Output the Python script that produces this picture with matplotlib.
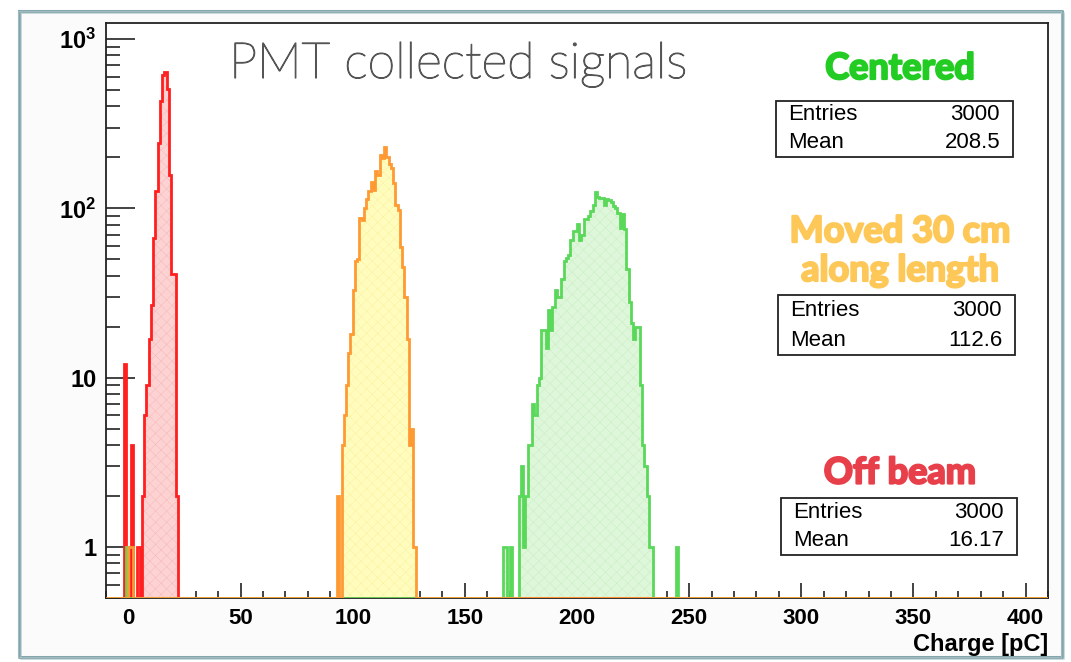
import numpy as np
import matplotlib
matplotlib.use('Agg')
import matplotlib.pyplot as plt
import matplotlib.patheffects as pe
from matplotlib.patches import Rectangle
from matplotlib.lines import Line2D
from matplotlib.ticker import MultipleLocator, LogLocator, FuncFormatter, NullFormatter

# charge histograms, 1 pC bins; counts start at the given bin
red_first = -2
red_counts = [12, 0, 0, 4, 0, 0, 1, 0, 2, 6, 9, 17, 27, 67, 126, 242, 430,
              611, 636, 505, 158, 41, 41, 2]

orange_first = 93
orange_counts = [2, 0, 4, 6, 9, 14, 18, 33, 49, 50, 88, 85, 100, 114, 127,
                 144, 129, 167, 158, 207, 198, 229, 202, 182, 173, 141, 105,
                 98, 59, 45, 30, 17, 4, 5, 1]
orange_extra_bins = [0, 1]
orange_extra_counts = [1, 1]

green_first = 174
green_counts = [2, 3, 1, 2, 4, 4, 7, 6, 9, 10, 19, 19, 15, 25, 19, 26, 33,
                30, 30, 38, 49, 51, 53, 65, 73, 73, 81, 65, 70, 86, 86, 90,
                96, 104, 125, 117, 115, 115, 105, 114, 112, 109, 103, 100,
                94, 77, 92, 75, 44, 28, 21, 17, 20, 20, 9, 4, 3, 2, 1, 1]
green_extra_bins = [-1, 167, 168, 170, 244]
green_extra_counts = [1, 1, 1, 1, 1]

labels = ['Centered', 'Moved 30 cm\nalong length', 'Off beam']
entries = ['3000', '3000', '3000']
means = ['208.5', '112.6', '16.17']

W, H = 1071, 662
edges = np.arange(-10, 411)
ymin, ymax = 0.5, 1243


def fx(px):
    return px / W


def fy(py):
    return 1 - py / H


def build(first, counts, extra_bins=(), extra_counts=()):
    h = np.zeros(len(edges) - 1)
    i0 = first - edges[0]
    h[i0:i0 + len(counts)] = counts
    for b, c in zip(extra_bins, extra_counts):
        h[b - edges[0]] += c
    return h


red_h = build(red_first, red_counts)
orange_h = build(orange_first, orange_counts, orange_extra_bins, orange_extra_counts)
green_h = build(green_first, green_counts, green_extra_bins, green_extra_counts)

plt.rcParams['mathtext.fontset'] = 'custom'
plt.rcParams['mathtext.bf'] = 'Liberation Sans:bold'
plt.rcParams['mathtext.rm'] = 'Liberation Sans'
plt.rcParams['hatch.linewidth'] = 0.3

fig = plt.figure(figsize=(W / 100, H / 100), dpi=100)
fig.patch.set_facecolor('white')

# sketchy slide frame
fig.add_artist(Rectangle((fx(19), fy(657)), fx(1062) - fx(19), fy(11) - fy(657),
                         transform=fig.transFigure, fc='#fbfbfb', ec='none', zorder=0))
frame_x = [19, 1062, 1062, 19, 19]
frame_y = [11, 11, 657, 657, 11]
fig.add_artist(Line2D([fx(v) for v in frame_x], [fy(v) for v in frame_y],
                      transform=fig.transFigure, color='#6d959c', lw=2.2, alpha=0.85))
fig.add_artist(Line2D([fx(v + 1.5) for v in frame_x], [fy(v + 1.5) for v in frame_y],
                      transform=fig.transFigure, color='#9dbabf', lw=1.2, alpha=0.6))
fig.add_artist(Line2D([fx(v - 1) for v in frame_x], [fy(v - 0.5) for v in frame_y],
                      transform=fig.transFigure, color='#b5cbce', lw=0.8, alpha=0.6))

ax = fig.add_axes([fx(106), fy(598), fx(1048) - fx(106), fy(23) - fy(598)])
ax.set_facecolor('white')
ax.set_yscale('log')
ax.set_xlim(-10, 410)
ax.set_ylim(ymin, ymax)

hists = [
    (red_h, '#ff1f1f', '#fcd2d2', '#f7b4b4'),
    (green_h, '#5ad85a', '#def6da', '#c4eebd'),
    (orange_h, '#ff9a33', '#fffcbd', '#f9f09a'),
]
for h, line_col, face_col, hatch_col in hists:
    shown = np.where(h > 0, h, ymin)
    ax.stairs(shown, edges, baseline=ymin, fill=True, facecolor=face_col,
              edgecolor=hatch_col, hatch='xxx', linewidth=0, zorder=2)
    ax.stairs(shown, edges, baseline=ymin, color=line_col, linewidth=2.0, zorder=3)

for s in ax.spines.values():
    s.set_linewidth(1.3)
    s.set_color('#222222')
    s.set_zorder(2.5)

ax.xaxis.set_major_locator(MultipleLocator(50))
ax.xaxis.set_minor_locator(MultipleLocator(10))
ax.yaxis.set_major_locator(LogLocator(base=10, numticks=10))
ax.yaxis.set_minor_locator(LogLocator(base=10, subs=np.arange(2, 10), numticks=20))
ax.yaxis.set_minor_formatter(NullFormatter())


def ylab(v, pos):
    if v < 5:
        return '1'
    if v < 50:
        return '10'
    return r'$\mathbf{10^{%d}}$' % round(np.log10(v))


ax.yaxis.set_major_formatter(FuncFormatter(ylab))
ax.tick_params(which='both', direction='in', top=False, right=False,
               color='#222222', width=1.2)
ax.tick_params(axis='x', which='major', length=11, pad=7)
ax.tick_params(axis='x', which='minor', length=5)
ax.tick_params(axis='y', which='major', length=21, pad=7)
ax.tick_params(axis='y', which='minor', length=10)
for lab in ax.get_xticklabels():
    lab.set_fontfamily('Liberation Sans')
    lab.set_fontweight('bold')
    lab.set_fontsize(16)
for lab in ax.get_yticklabels():
    lab.set_fontfamily('Liberation Sans')
    lab.set_fontweight('bold')
    lab.set_fontsize(17)

fig.text(fx(1048), fy(644), 'Charge [pC]', ha='right', va='center',
         family='Liberation Sans', weight='bold', fontsize=17)

title = fig.text(fx(458), fy(78), 'PMT collected signals', ha='center',
                 va='baseline', family='Lato', weight='light', fontsize=36,
                 color='#555555')
title.set_path_effects([pe.withStroke(linewidth=0.9, foreground='#555555')])

# stat boxes with their captions
head_cols = ['#22cc22', '#fdc858', '#e8404a']
head_y = [68.5, 251, 473]
boxes = [(776, 101, 1013, 157), (778, 295, 1015, 355), (781, 498, 1017, 555)]
for i in range(3):
    t = fig.text(fx(900), fy(head_y[i]), labels[i], ha='center', va='center',
                 family='Lato', weight='bold', fontsize=26, color=head_cols[i],
                 linespacing=1.22)
    t.set_path_effects([pe.withStroke(linewidth=1.6, foreground=head_cols[i])])
    x0, y0, x1, y1 = boxes[i]
    fig.add_artist(Rectangle((fx(x0), fy(y1)), fx(x1) - fx(x0), fy(y0) - fy(y1),
                             transform=fig.transFigure, fill=False,
                             lw=1.3, ec='#222222'))
    row1 = y0 + (y1 - y0) * 0.25
    row2 = y0 + (y1 - y0) * 0.75
    for txt, val, yy in [('Entries', entries[i], row1), ('Mean', means[i], row2)]:
        fig.text(fx(x0 + 12), fy(yy), txt, ha='left', va='center',
                 family='Liberation Sans', fontsize=16)
        fig.text(fx(x1 - 13), fy(yy), val, ha='right', va='center',
                 family='Liberation Sans', fontsize=16)

fig.savefig('out.png', dpi=100)
